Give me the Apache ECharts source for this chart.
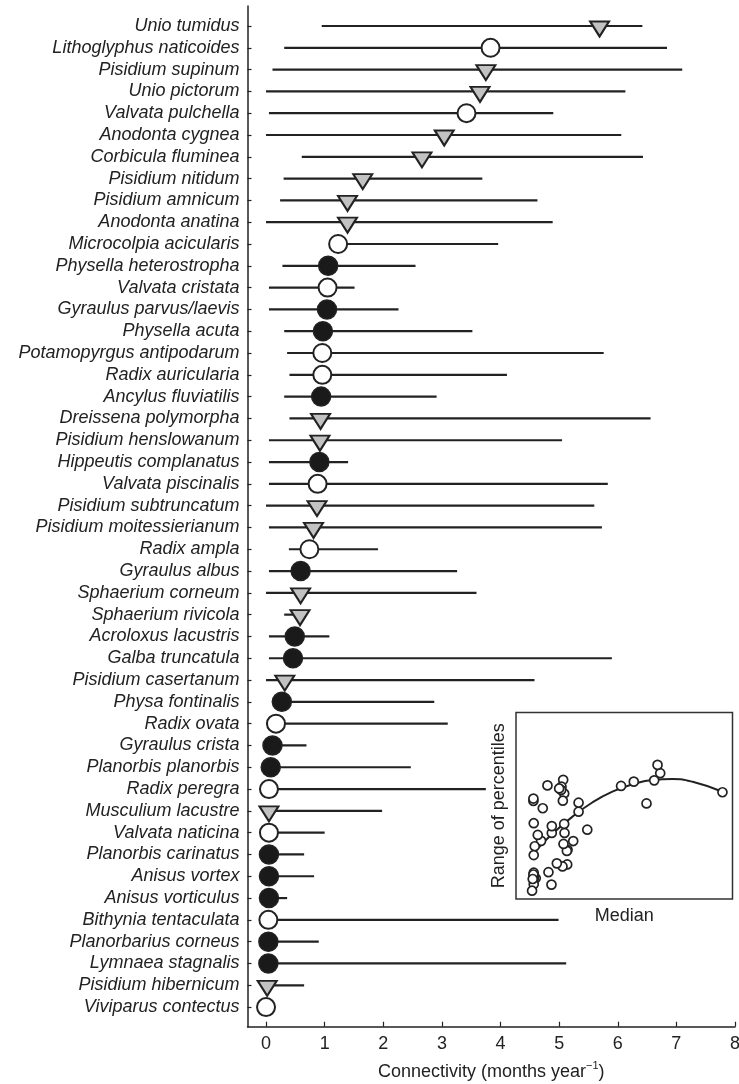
<!DOCTYPE html>
<html><head><meta charset="utf-8">
<script src="https://cdn.jsdelivr.net/npm/echarts@6/dist/echarts.min.js"></script>
<style>html,body{margin:0;padding:0;background:#fff}#c{width:739px;height:1084px}</style>
</head><body><div id="c"></div>
<script>
const species = ['Unio tumidus','Lithoglyphus naticoides','Pisidium supinum','Unio pictorum','Valvata pulchella','Anodonta cygnea','Corbicula fluminea','Pisidium nitidum','Pisidium amnicum','Anodonta anatina','Microcolpia acicularis','Physella heterostropha','Valvata cristata','Gyraulus parvus/laevis','Physella acuta','Potamopyrgus antipodarum','Radix auricularia','Ancylus fluviatilis','Dreissena polymorpha','Pisidium henslowanum','Hippeutis complanatus','Valvata piscinalis','Pisidium subtruncatum','Pisidium moitessierianum','Radix ampla','Gyraulus albus','Sphaerium corneum','Sphaerium rivicola','Acroloxus lacustris','Galba truncatula','Pisidium casertanum','Physa fontinalis','Radix ovata','Gyraulus crista','Planorbis planorbis','Radix peregra','Musculium lacustre','Valvata naticina','Planorbis carinatus','Anisus vortex','Anisus vorticulus','Bithynia tentaculata','Planorbarius corneus','Lymnaea stagnalis','Pisidium hibernicum','Viviparus contectus'];
const lower  = [0.95,0.31,0.11,0.00,0.05,0.00,0.61,0.30,0.24,0.00,1.20,0.28,0.05,0.05,0.31,0.36,0.40,0.31,0.40,0.05,0.05,0.05,0.00,0.05,0.39,0.05,0.00,0.31,0.05,0.05,0.00,0.10,0.00,0.00,0.00,0.00,0.00,0.00,0.00,0.00,0.00,0.00,0.00,0.00,0.00,0.00];
const median = [5.69,3.83,3.75,3.65,3.42,3.04,2.66,1.65,1.39,1.39,1.23,1.06,1.05,1.04,0.97,0.96,0.96,0.94,0.93,0.92,0.91,0.88,0.87,0.81,0.74,0.59,0.59,0.58,0.49,0.46,0.32,0.27,0.17,0.11,0.08,0.05,0.05,0.05,0.05,0.05,0.05,0.04,0.04,0.04,0.02,0.00];
const upper  = [6.42,6.84,7.10,6.13,4.90,6.06,6.43,3.69,4.63,4.89,3.96,2.55,1.51,2.26,3.52,5.76,4.11,2.91,6.56,5.05,1.40,5.83,5.60,5.73,1.91,3.26,3.59,0.65,1.08,5.90,4.58,2.87,3.10,0.69,2.47,3.75,1.98,1.00,0.65,0.82,0.36,4.99,0.90,5.12,0.65,0.00];
// T = grey triangle, O = open circle, F = filled circle
const markerType = ['T','O','T','T','O','T','T','T','T','T','O','F','O','F','F','O','O','F','T','T','F','O','T','T','O','F','T','T','F','F','T','F','O','F','F','O','T','O','F','F','F','O','F','F','T','O'];
const xTicks = [0,1,2,3,4,5,6,7,8];
// fitted curve of the inset: [median, range]
const insetCurve = [[0.15,2.3],[0.6,3.15],[1.2,4.1],[1.8,4.9],[2.4,5.5],[3.0,5.9],[3.6,6.15],[4.2,6.2],[4.8,6.05],[5.69,5.5]];

const rowIdx = species.map((s,i)=>i+1);
const pick = t => median.map((m,i)=>markerType[i]===t?[m,i+1]:null).filter(Boolean);
const insetPts = median.map((m,i)=>[m, +(upper[i]-lower[i]).toFixed(2)]);

const ink = '#222';
const chart = echarts.init(document.getElementById('c'), null, {renderer:'canvas'});
chart.setOption({
  animation:false,
  backgroundColor:'#fff',
  textStyle:{fontFamily:'Liberation Sans, Arial, sans-serif', color:ink},
  grid:[
    {left:247.5, top:6, width:487.5, height:1020.7, containLabel:false, outerBoundsMode:'none'},
    {left:516, top:712.5, width:216.5, height:186.5, show:true, borderColor:'#333', borderWidth:1.5, backgroundColor:'#fff', containLabel:false, outerBoundsMode:'none'}
  ],
  xAxis:[
    {type:'value', gridIndex:0, min:-0.316, max:8,
     axisLine:{show:true, onZero:false, lineStyle:{color:ink, width:1.5}},
     axisTick:{show:true, inside:true, length:5, customValues:xTicks, lineStyle:{color:ink, width:1.2}},
     axisLabel:{show:true, customValues:xTicks, fontSize:18, color:ink, margin:8},
     splitLine:{show:false},
     name:'{a|Connectivity (months year}{s|\u22121}{a|)}', nameLocation:'middle', nameGap:34,
     nameTextStyle:{rich:{a:{fontSize:18, color:ink, lineHeight:20, verticalAlign:'bottom'}, s:{fontSize:11, color:ink, lineHeight:20, verticalAlign:'top', padding:[0,0,0,0]}}}
    },
    {type:'value', gridIndex:1, min:-0.48, max:5.99,
     axisLine:{show:false}, axisTick:{show:false}, axisLabel:{show:false}, splitLine:{show:false},
     name:'Median', nameLocation:'middle', nameGap:8, nameTextStyle:{fontSize:18, color:ink}
    }
  ],
  yAxis:[
    {type:'value', gridIndex:0, inverse:true, min:0.083, max:46.9,
     axisLine:{show:true, onZero:false, lineStyle:{color:ink, width:1.5}},
     axisTick:{show:true, inside:true, length:4, customValues:rowIdx, lineStyle:{color:ink, width:1.2}},
     axisLabel:{show:true, customValues:rowIdx, fontSize:18, fontStyle:'italic', color:ink, margin:8,
       formatter:v=>species[Math.round(v)-1] || ''},
     splitLine:{show:false}
    },
    {type:'value', gridIndex:1, min:-0.46, max:9.9,
     axisLine:{show:false}, axisTick:{show:false}, axisLabel:{show:false}, splitLine:{show:false},
     name:'Range of percentiles', nameLocation:'middle', nameRotate:90, nameGap:8, nameTextStyle:{fontSize:18, color:ink}
    }
  ],
  series:[
    {type:'custom', xAxisIndex:0, yAxisIndex:0, z:2,
     data:species.map((s,i)=>[lower[i], upper[i], i+1]),
     encode:{x:[0,1], y:2},
     renderItem:(params, api)=>{
       const p1 = api.coord([api.value(0), api.value(2)]);
       const p2 = api.coord([api.value(1), api.value(2)]);
       return {type:'line', shape:{x1:p1[0], y1:p1[1], x2:p2[0], y2:p2[1]}, style:{stroke:ink, lineWidth:2.2}};
     }},
    {type:'scatter', xAxisIndex:0, yAxisIndex:0, z:3, data:pick('T'), symbol:'triangle', symbolRotate:180,
     symbolSize:[19,15], symbolOffset:[0,3], itemStyle:{color:'#c2c2c2', borderColor:ink, borderWidth:2, opacity:1}},
    {type:'scatter', xAxisIndex:0, yAxisIndex:0, z:3, data:pick('O'), symbol:'circle', symbolSize:18,
     itemStyle:{color:'#fff', borderColor:ink, borderWidth:2, opacity:1}},
    {type:'scatter', xAxisIndex:0, yAxisIndex:0, z:3, data:pick('F'), symbol:'circle', symbolSize:19,
     itemStyle:{color:'#1a1a1a', borderColor:ink, borderWidth:1.5, opacity:1}},
    {type:'line', xAxisIndex:1, yAxisIndex:1, z:3, data:insetCurve, smooth:true, showSymbol:false, symbol:'none',
     lineStyle:{color:ink, width:2}},
    {type:'scatter', xAxisIndex:1, yAxisIndex:1, z:4, data:insetPts, symbol:'circle', symbolSize:9,
     itemStyle:{color:'#fff', borderColor:ink, borderWidth:1.7, opacity:1}}
  ]
});
</script></body></html>
